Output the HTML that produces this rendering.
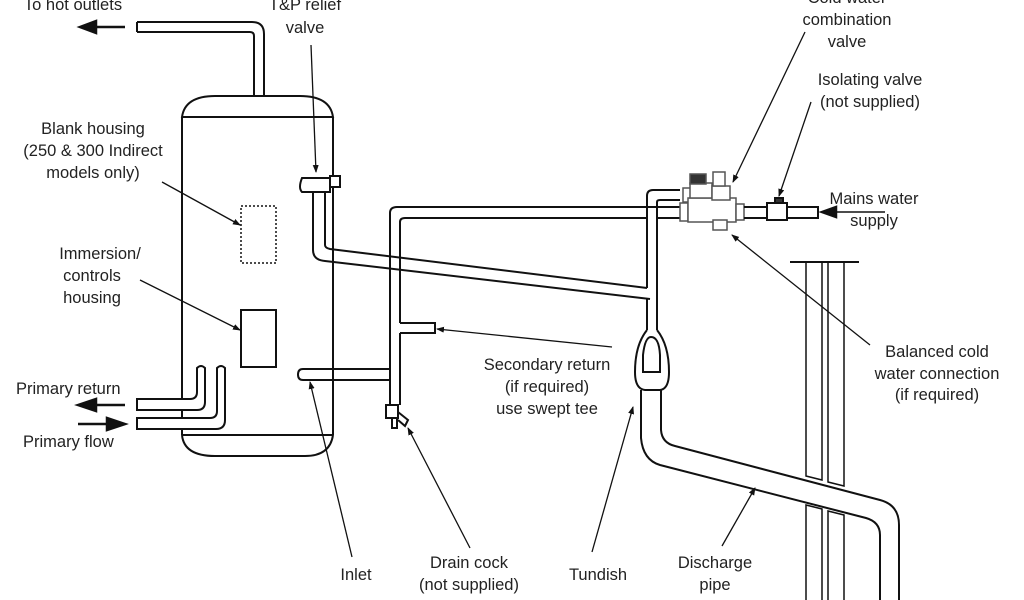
<!DOCTYPE html>
<html><head><meta charset="utf-8"><style>
html,body{margin:0;padding:0;background:#fff;}
svg{display:block;}
text{font-family:"Liberation Sans",sans-serif;font-size:16.5px;fill:#222;}
</style></head><body>
<svg width="1024" height="600" viewBox="0 0 1024 600" xmlns="http://www.w3.org/2000/svg">
<defs>
<marker id="a" markerWidth="8" markerHeight="8" refX="7" refY="3" orient="auto" markerUnits="userSpaceOnUse"><path d="M0,0 L8,3 L0,6 Z" fill="#111"/></marker>
</defs>
<g fill="none" stroke="#111" stroke-width="2">
<path d="M182,117 Q185,96 215,96 L300,96 Q330,96 333,117 Z" fill="#fff"/>
<path d="M182,117 L182,435 M333,117 L333,435 M182,435 L333,435"/>
<path d="M182,435 Q184,456 215,456 L305,456 Q330,456 333,435"/>
<path d="M137,22 L252,22 Q264,22 264,34 L264,95"/>
<path d="M137,32 L250,32 Q254,32 254,36 L254,95"/>
<path d="M137,22 L137,32"/>
<path d="M137,399 L190,399 Q197,399 197,392 L197,368 Q201,364 205,368 L205,402 Q205,410 197,410 L137,410 Z" fill="#fff"/>
<path d="M137,418 L210,418 Q217,418 217,411 L217,368 Q221,364 225,368 L225,420 Q225,429 216,429 L137,429 Z" fill="#fff"/>
<rect x="241" y="310" width="35" height="57"/>
<rect x="241" y="206" width="35" height="57" stroke-dasharray="2,2" stroke-width="1.5"/>
<path d="M313,192 L302,192 Q298,188 302,178 L330,178 L330,192 L325,192 Z" fill="#fff"/>
<rect x="330" y="176" width="10" height="11" fill="#fff"/>
<path d="M313,192 L313,250 Q313,260 325,261 L650,299"/>
<path d="M325,192 L325,245 Q325,248 330,249 L647,288"/>
<path d="M390,405 L390,213 Q390,207 397,207 L680,207"/>
<path d="M400,323 L400,222 Q400,218 405,218 L647,218"/>
<path d="M400,333 L400,405 M390,369 L303,369 Q298,369 298,374.5 Q298,380 303,380 L390,380"/>
<path d="M400,323 L435,323 L435,333 L400,333"/>
<path d="M386,405 L386,418 L398,418 L398,405 Z" fill="#fff"/>
<path d="M398,412 L408,420 L405,426 L398,420"/>
<rect x="392" y="418" width="5" height="10"/>
<path d="M657,218 L680,218 M647,218 L647,288 M657,218 L657,298 M647,299 L647,330 M657,298 L657,330"/>
<path d="M647,218 L647,196 Q647,190 653,190 L680,190 M657,218 L657,202 Q657,200 660,200 L680,200"/>
<g stroke="#555" stroke-width="1.5" fill="#fff">
<rect x="680" y="203" width="8" height="18"/>
<rect x="683" y="188" width="10" height="14"/>
<rect x="688" y="198" width="48" height="24"/>
<rect x="690" y="183" width="22" height="15"/>
<rect x="690" y="174" width="16" height="10" fill="#333"/>
<rect x="712" y="186" width="18" height="14"/>
<rect x="713" y="172" width="12" height="14"/>
<rect x="713" y="220" width="14" height="10"/>
<rect x="736" y="204" width="8" height="16"/>
</g>
<path d="M744,207 L767,207 M744,218 L767,218 M787,207 L818,207 L818,218 L787,218"/>
<rect x="767" y="203" width="20" height="17"/>
<rect x="775" y="198" width="8" height="5" fill="#333"/>
<path d="M647,330 Q635,345 635,372 Q635,389 645,390 L660,390 Q669,389 669,372 Q669,345 657,330"/>
<path d="M643,372 L643,355 Q645,337 651,337 Q659,337 660,355 L660,372 Z"/>
<path d="M641,390 L641,438 Q643,460 660,465 L866,518 Q880,522 880,535 L880,600"/>
<path d="M661,390 L661,430 Q662,443 675,446 L880,500 Q899,505 899,525 L899,600"/>
<path d="M790,262 L859,262" />
<path d="M806,262 L806,476 L822,480 L822,262 M828,262 L828,482 L844,486 L844,262" stroke-width="1.5"/>
<path d="M806,600 L806,505 L822,509 L822,600 M828,600 L828,511 L844,515 L844,600" stroke-width="1.5"/>
</g>
<g stroke="#111" stroke-width="2.5" fill="#111">
<path d="M125,27 L95,27"/><path d="M80,27 L96,21 L96,33 Z"/>
<path d="M125,405 L95,405"/><path d="M78,405 L96,399 L96,411 Z"/>
<path d="M78,424 L108,424"/><path d="M125,424 L107,418 L107,430 Z"/>
<path d="M885,212 L835,212" stroke-width="1.5"/><path d="M822,212 L836,207 L836,217 Z"/>
</g>
<g stroke="#111" stroke-width="1.3" fill="none" marker-end="url(#a)">
<path d="M311,45 L316,172"/>
<path d="M162,182 L240,225"/>
<path d="M140,280 L240,330"/>
<path d="M805,32 L733,182"/>
<path d="M811,102 L779,196"/>
<path d="M870,345 L732,235"/>
<path d="M612,347 L437,329"/>
<path d="M352,557 L310,382"/>
<path d="M470,548 L408,428"/>
<path d="M592,552 L633,407"/>
<path d="M722,546 L755,488"/>
</g>
<g text-anchor="middle">
<text x="73" y="10">To hot outlets</text>
<text x="305" y="10">T&amp;P relief</text>
<text x="305" y="33">valve</text>
<text x="847" y="3">Cold water</text>
<text x="847" y="25">combination</text>
<text x="847" y="47">valve</text>
<text x="870" y="85">Isolating valve</text>
<text x="870" y="107">(not supplied)</text>
<text x="874" y="204">Mains water</text>
<text x="874" y="226">supply</text>
<text x="93" y="134">Blank housing</text>
<text x="93" y="156">(250 &amp; 300  Indirect</text>
<text x="93" y="178">models only)</text>
<text x="100" y="259">Immersion/</text>
<text x="92" y="281">controls</text>
<text x="92" y="303">housing</text>
<text x="547" y="370">Secondary return</text>
<text x="547" y="392">(if required)</text>
<text x="547" y="414">use swept tee</text>
<text x="937" y="357">Balanced cold</text>
<text x="937" y="379">water connection</text>
<text x="937" y="400">(if required)</text>
<text x="356" y="580">Inlet</text>
<text x="469" y="568">Drain cock</text>
<text x="469" y="590">(not supplied)</text>
<text x="598" y="580">Tundish</text>
<text x="715" y="568">Discharge</text>
<text x="715" y="590">pipe</text>
</g>
<text x="16" y="394">Primary return</text>
<text x="23" y="447">Primary flow</text>
</svg>
</body></html>
